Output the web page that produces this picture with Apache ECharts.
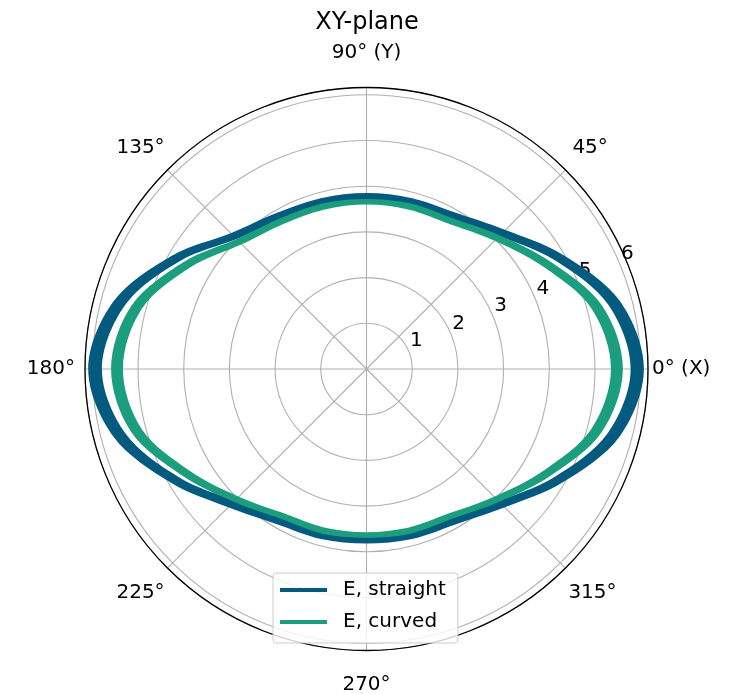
<!DOCTYPE html>
<html>
<head>
<meta charset="utf-8">
<script src="https://cdn.jsdelivr.net/npm/echarts@6/dist/echarts.min.js"></script>
<style>
  html, body { margin: 0; padding: 0; background: #ffffff; }
  #chart { width: 734px; height: 694px; }
</style>
</head>
<body>
<div id="chart"></div>
<script>
// Sampling angles (degrees) for the field magnitude bands
const angles = [0, 15, 30, 45, 60, 75, 90, 105, 120, 135, 150, 165,
                180, 195, 210, 225, 240, 255, 270, 285, 300, 315, 330, 345];

// |E| for the straight conductor: inner and outer edge of the band
const straightInner = [5.78, 5.47, 4.76, 4.11, 3.78, 3.71, 3.70, 3.71, 3.78, 4.02, 4.72, 5.46,
                       5.79, 5.46, 4.74, 4.08, 3.76, 3.69, 3.68, 3.69, 3.76, 4.09, 4.74, 5.46];
const straightOuter = [6.07, 5.74, 4.98, 4.30, 3.94, 3.87, 3.85, 3.87, 3.94, 4.20, 4.94, 5.73,
                       6.09, 5.73, 4.96, 4.28, 3.92, 3.85, 3.82, 3.85, 3.92, 4.28, 4.96, 5.73];

// |E| for the curved conductor: inner and outer edge of the band
const curvedInner = [5.35, 5.10, 4.47, 3.97, 3.66, 3.61, 3.60, 3.61, 3.66, 3.86, 4.45, 5.09,
                     5.33, 5.09, 4.46, 3.95, 3.64, 3.59, 3.57, 3.59, 3.64, 3.95, 4.46, 5.09];
const curvedOuter = [5.61, 5.34, 4.67, 4.13, 3.80, 3.75, 3.72, 3.75, 3.80, 4.02, 4.65, 5.33,
                     5.59, 5.33, 4.66, 4.11, 3.78, 3.73, 3.69, 3.73, 3.78, 4.11, 4.66, 5.33];

const seriesNames = ['E, straight', 'E, curved'];
const angleTickLabels = ['0° (X)', '45°', '90° (Y)', '135°', '180°', '225°', '270°', '315°'];
const radiusMax = 6.16;

const FONT = 'DejaVu Sans';
const CX = 366.5, CY = 369, R = 281.5;
const COLORS = ['#035a7f', '#1b9e7d'];

// closed Catmull-Rom loop through pixel points, as SVG path data
function loopPath(pts) {
  const n = pts.length;
  const f = v => v.toFixed(2);
  let d = 'M' + f(pts[0][0]) + ' ' + f(pts[0][1]);
  for (let i = 0; i < n; i++) {
    const p0 = pts[(i - 1 + n) % n], p1 = pts[i], p2 = pts[(i + 1) % n], p3 = pts[(i + 2) % n];
    const c1x = p1[0] + (p2[0] - p0[0]) / 6, c1y = p1[1] + (p2[1] - p0[1]) / 6;
    const c2x = p2[0] - (p3[0] - p1[0]) / 6, c2y = p2[1] - (p3[1] - p1[1]) / 6;
    d += 'C' + f(c1x) + ' ' + f(c1y) + ' ' + f(c2x) + ' ' + f(c2y) + ' ' + f(p2[0]) + ' ' + f(p2[1]);
  }
  return d + 'Z';
}

function bandSeries(name, inner, outer, color) {
  return {
    type: 'custom',
    name: name,
    coordinateSystem: 'polar',
    polarIndex: 0,
    itemStyle: { color: color },
    data: [[0, 0]],
    renderItem: function (params, api) {
      const outerPts = angles.map((a, i) => api.coord([outer[i], a]));
      const innerPts = angles.map((a, i) => api.coord([inner[i], a])).reverse();
      return {
        type: 'path',
        shape: { pathData: loopPath(outerPts) + loopPath(innerPts) },
        style: { fill: color, stroke: null }
      };
    }
  };
}

// per-label nudges so each angle label sits where it belongs
const angleRich = {
  a0: { padding: [0, 0, 0, 0] },
  a45: { padding: [0, 0, 9, 4] },
  a90: { padding: [0, 0, 21, 0] },
  a135: { padding: [0, 0, 9, 0] },
  a180: { padding: [0, 6, 0, 0] },
  a225: { padding: [12, 0, 0, 0] },
  a270: { padding: [20, 0, 0, 0] },
  a315: { padding: [12, 0, 0, 0] }
};

const chart = echarts.init(document.getElementById('chart'), null, { renderer: 'canvas' });

chart.setOption({
  backgroundColor: '#ffffff',
  animation: false,
  textStyle: { fontFamily: FONT },
  title: {
    text: 'XY-plane',
    left: 'center',
    top: 6,
    textStyle: { fontFamily: FONT, fontSize: 24, fontWeight: 'normal', color: '#000' }
  },
  legend: {
    orient: 'vertical',
    left: 273,
    top: 573,
    padding: [7, 12, 11, 7],
    itemGap: 12,
    itemWidth: 47,
    itemHeight: 4,
    icon: 'rect',
    backgroundColor: 'rgba(255,255,255,0.8)',
    borderColor: '#cccccc',
    borderWidth: 1,
    borderRadius: 3,
    data: seriesNames,
    textStyle: { fontFamily: FONT, fontSize: 20, color: '#000', padding: [0, 0, 0, 11] }
  },
  polar: [
    { center: [CX, CY], radius: R },
    // radius tick labels ride on this one, turned to 22.5°
    { center: [CX + 17, CY - 3], radius: R }
  ],
  angleAxis: [
    {
      polarIndex: 0,
      type: 'value',
      min: 0, max: 360, interval: 45,
      startAngle: 0,
      clockwise: false,
      axisLine: { show: true, lineStyle: { color: '#000', width: 1.3 } },
      axisTick: { show: false },
      splitLine: { show: true, lineStyle: { color: '#b0b0b0', width: 1.1 } },
      axisLabel: {
        margin: 4,
        fontFamily: FONT, fontSize: 20, color: '#000',
        formatter: function (v) {
          const k = Math.round(v / 45);
          if (k >= angleTickLabels.length) return '';
          return '{a' + (k * 45) + '|' + angleTickLabels[k] + '}';
        },
        rich: angleRich
      }
    },
    {
      polarIndex: 1,
      type: 'value',
      min: 0, max: 360,
      startAngle: 22.5,
      clockwise: false,
      show: false
    }
  ],
  radiusAxis: [
    {
      polarIndex: 0,
      type: 'value',
      min: 0, max: radiusMax, interval: 1,
      axisLine: { show: false },
      axisTick: { show: false },
      axisLabel: { show: false },
      splitLine: { show: true, lineStyle: { color: '#b0b0b0', width: 1.1 } }
    },
    {
      polarIndex: 1,
      type: 'value',
      min: 0, max: radiusMax, interval: 1,
      axisLine: { show: false },
      axisTick: { show: false },
      splitLine: { show: false },
      axisLabel: {
        fontFamily: FONT, fontSize: 20, color: '#000',
        formatter: function (v) {
          return (v > 0 && Math.abs(v - Math.round(v)) < 1e-6) ? String(v) : '';
        }
      }
    }
  ],
  series: [
    bandSeries(seriesNames[0], straightInner, straightOuter, COLORS[0]),
    bandSeries(seriesNames[1], curvedInner, curvedOuter, COLORS[1])
  ]
});
</script>
</body>
</html>
